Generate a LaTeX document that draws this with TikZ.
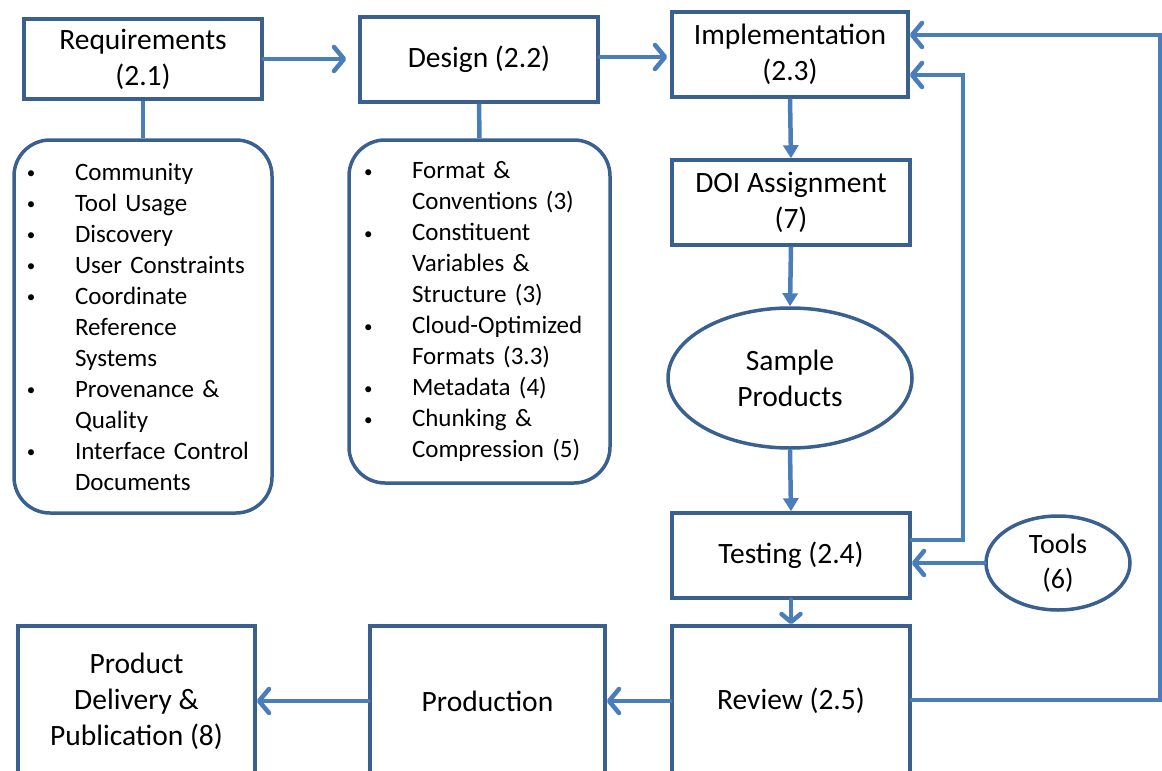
\documentclass[tikz,border=0pt]{standalone}
\usepackage{fontspec}
\setmainfont{Carlito}
\usetikzlibrary{arrows.meta,shapes.geometric,calc}
\definecolor{boxblue}{HTML}{3A6090}
\definecolor{arrblue}{HTML}{4A7EBB}
\tikzset{
  box/.style={draw=boxblue, line width=3.5pt, fill=white, align=center,
    font=\fontsize{29.5}{36}\selectfont, inner sep=0pt},
  listbox/.style={draw=boxblue, line width=3.5pt, rounded corners=36pt, align=left,
    font=\fontsize{25}{31}\selectfont, inner ysep=0pt},
  oval/.style={ellipse, draw=boxblue, line width=3.5pt, fill=white, align=center,
    font=\fontsize{29.5}{36}\selectfont, inner sep=0pt},
  conn/.style={draw=arrblue, line width=4.5pt},
  chev/.style={conn, line cap=round, line join=miter,
    -{Straight Barb[length=10pt, width=24pt, round]}},
  tri/.style={conn, -{Triangle[length=13pt, width=15pt]}},
}
\newcommand{\itm}[1]{\makebox[49pt][l]{\hspace*{1pt}\raisebox{1.5pt}{\fontsize{17}{17}\selectfont\textbullet}}\mbox{#1}}
\newcommand{\cnt}[1]{\hspace*{49pt}\mbox{#1}}
\begin{document}
\begin{tikzpicture}[x=1pt, y=-1pt]
\useasboundingbox (0,0) rectangle (1162,771);
\clip (0,0) rectangle (1162,771);

% main boxes
\node[box, minimum width=238pt, minimum height=80pt] (req) at (143,59) {Requirements\\(2.1)};
\node[box, minimum width=238pt, minimum height=85pt] (design) at (479,59.5) {Design (2.2)};
\node[box, minimum width=236pt, minimum height=85pt] (impl) at (790,54.5) {Implementation\\(2.3)};
\node[box, minimum width=238pt, minimum height=85pt] (doi) at (791,202.5) {DOI Assignment\\(7)};
\node[oval, minimum width=244pt, minimum height=140pt] (sample) at (790,378) {Sample\\Products};
\node[box, minimum width=238pt, minimum height=85pt] (test) at (791,555.5) {Testing (2.4)};
\node[oval, minimum width=144pt, minimum height=94pt, font=\fontsize{28}{35}\selectfont] (tools) at (1058,563) {Tools\\(6)};
\node[box, minimum width=238pt, minimum height=150pt] (review) at (791,701) {Review (2.5)};
\node[box, minimum width=235pt, minimum height=150pt] (production) at (487.5,701) {Production};
\node[box, minimum width=237pt, minimum height=150pt] (delivery) at (136.5,701) {Product\\Delivery \&\\Publication (8)};

% list boxes
\node[listbox, inner xsep=12pt, text width=234pt, minimum width=258pt, minimum height=373pt] (reqlist) at (143,326.5) {%
\itm{Community}\\
\itm{Tool Usage}\\
\itm{Discovery}\\
\itm{User Constraints}\\
\itm{Coordinate}\\
\cnt{Reference}\\
\cnt{Systems}\\
\itm{Provenance \&}\\
\cnt{Quality}\\
\itm{Interface Control}\\
\cnt{Documents}};
\node[listbox, inner xsep=14pt, text width=233pt, minimum width=261pt, minimum height=343pt] (deslist) at (479.5,311.5) {%
\itm{Format \&}\\
\cnt{Conventions (3)}\\
\itm{Constituent}\\
\cnt{Variables \&}\\
\cnt{Structure (3)}\\
\itm{Cloud-Optimized}\\
\cnt{Formats (3.3)}\\
\itm{Metadata (4)}\\
\itm{Chunking \&}\\
\cnt{Compression (5)}};

% connectors
\draw[conn] (req.south) -- (reqlist.north);
\draw[conn] (design.south) -- (deslist.north);
\draw[chev, shorten >=12pt] (req.east) -- (req.east -| design.west);
\draw[chev, shorten >=3pt] (design.east |- 0,57) -- (impl.west |- 0,57);
\draw[tri] (impl.south) -- (doi.north);
\draw[tri] (doi.south) -- (sample.north);
\draw[tri] (sample.south) -- (test.north);
\draw[chev, -{Straight Barb[length=8pt, width=19pt, round]}] (test.south) -- (review.north);
\draw[chev] (tools.west) -- (tools.west -| test.east);
\coordinate (fbA) at (963,540);
\coordinate (fbB) at (963,75);
\draw[chev] (test.east |- fbA) -- (fbA) -- (fbB) -- (fbB -| impl.east);
\coordinate (lpA) at (1160,700);
\coordinate (lpB) at (1160,35);
\draw[chev] (review.east |- lpA) -- (lpA) -- (lpB) -- (lpB -| impl.east);
\draw[chev] (review.west) -- (production.east);
\draw[chev] (production.west) -- (delivery.east);
\end{tikzpicture}
\end{document}
